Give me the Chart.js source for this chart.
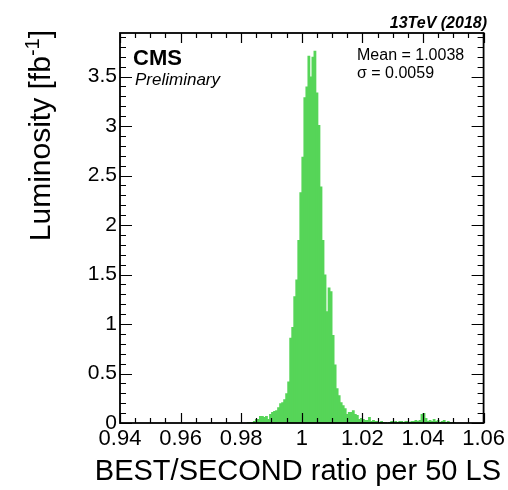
<!DOCTYPE html>
<html><head><meta charset="utf-8">
<script src="https://cdn.jsdelivr.net/npm/chart.js@4.4.1/dist/chart.umd.min.js"></script>
<style>html,body{margin:0;padding:0;background:#fff;}canvas{display:block;}</style>
</head><body>
<canvas id="c" width="508" height="490"></canvas>
<script>
// ---- data ----
const xMin = 0.94, xMax = 1.06;
const binWidth = 1 / 1500;          // bin width of the ratio histogram
const firstBinLow = 0.982;          // low edge of the first filled bin
const lumi = [ // integrated luminosity per bin [fb^-1]
  0.01,0.01,0.01,0.02,0.04,0.04,0.07,0.07,0.06,0.07,
  0.04,0.09,0.11,0.12,0.13,0.16,0.20,0.21,0.24,0.30,
  0.42,0.86,0.97,1.28,1.45,1.85,2.33,2.69,3.29,3.40,
  3.71,3.50,3.70,3.76,3.34,3.01,2.39,1.85,1.50,1.13,
  1.37,1.33,0.89,0.59,0.35,0.28,0.21,0.18,0.15,0.09,
  0.11,0.11,0.13,0.09,0.08,0.04,0.05,0.04,0.03,0.03,
  0.06,0.02,0.03,0.02,0.02,0.01,0.02,0.01,0.01,0.00,
  0.01,0.02,0.01,0.02,0.01,0.02,0.02,0.01,0.02,0.02,
  0.01,0.02,0.02,0.03,0.02,0.03,0.09,0.10,0.05,0.02,
  0.03,0.02,0.04,0.02,0.03,0.01,0.02,0.03,0.01,0.02,
  0.01,0.01,0.01
];
const xTicks = [0.94, 0.96, 0.98, 1.00, 1.02, 1.04, 1.06];
const xTickLabels = ['0.94', '0.96', '0.98', '1', '1.02', '1.04', '1.06'];
const yTicks = [0, 0.5, 1, 1.5, 2, 2.5, 3, 3.5];
const yTickLabels = ['0', '0.5', '1', '1.5', '2', '2.5', '3', '3.5'];
const yMax = 3.94;
const statLines = ['Mean = 1.0038', 'σ = 0.0059'];

// ---- bins: centre of each bin ----
const points = lumi.map((v, i) => ({ x: firstBinLow + (i + 0.5) * binWidth, y: v }));

const FONT = '"Liberation Sans", Arial, Helvetica, sans-serif';
const GREEN = 'rgb(86,213,88)';

const decor = {
  id: 'decor',
  afterDatasetsDraw(chart) {
    const ctx = chart.ctx, a = chart.chartArea;
    const xs = chart.scales.x, ys = chart.scales.y;
    ctx.save();
    ctx.strokeStyle = '#000';
    ctx.lineWidth = 1.8;
    ctx.strokeRect(a.left, a.top, a.right - a.left, a.bottom - a.top);
    ctx.lineWidth = 1.2;
    ctx.beginPath();
    for (let k = 0; k <= 24; k++) {
      const v = xMin + k * 0.005;
      const px = Math.round(xs.getPixelForValue(v)) + 0.5;
      const len = (k % 4 === 0) ? 10 : 5;
      ctx.moveTo(px, a.bottom); ctx.lineTo(px, a.bottom - len);
      ctx.moveTo(px, a.top); ctx.lineTo(px, a.top + len);
    }
    for (let k = 0; k * 0.1 <= yMax + 1e-9; k++) {
      const v = k * 0.1;
      const py = Math.round(ys.getPixelForValue(v)) + 0.5;
      const len = (k % 5 === 0) ? 12 : 6;
      ctx.moveTo(a.left, py); ctx.lineTo(a.left + len, py);
      ctx.moveTo(a.right, py); ctx.lineTo(a.right - len, py);
    }
    ctx.stroke();

    ctx.fillStyle = '#000';
    ctx.textBaseline = 'alphabetic';
    ctx.font = 'italic bold 16px ' + FONT;
    ctx.textAlign = 'right';
    ctx.fillText('13TeV (2018)', 487, 28);
    ctx.textAlign = 'left';
    ctx.font = 'bold 22px ' + FONT;
    ctx.fillText('CMS', 133, 65);
    ctx.font = 'italic 17px ' + FONT;
    ctx.fillText('Preliminary', 135, 85);
    ctx.font = '16px ' + FONT;
    ctx.fillText(statLines[0], 357, 60);
    ctx.fillText(statLines[1], 357, 78);

    ctx.font = '29px ' + FONT;
    ctx.textAlign = 'right';
    ctx.fillText('BEST/SECOND ratio per 50 LS', 501, 480);

    ctx.save();
    ctx.translate(50, 30);
    ctx.rotate(-Math.PI / 2);
    ctx.textAlign = 'left';
    const big = '30px ' + FONT, small = '20px ' + FONT;
    ctx.font = big; const w1 = ctx.measureText('Luminosity [fb').width;
    ctx.font = small; const w2 = ctx.measureText('-1').width;
    ctx.font = big; const w3 = ctx.measureText(']').width;
    const x0 = -(w1 + w2 + w3);
    ctx.font = big; ctx.fillText('Luminosity [fb', x0, 0);
    ctx.font = small; ctx.fillText('-1', x0 + w1, -11);
    ctx.font = big; ctx.fillText(']', x0 + w1 + w2, 0);
    ctx.restore();
    ctx.restore();
  }
};

new Chart(document.getElementById('c'), {
  type: 'bar',
  data: {
    datasets: [{
      data: points,
      backgroundColor: GREEN,
      borderWidth: 0,
      barThickness: 2.8,
      inflateAmount: 0
    }]
  },
  options: {
    responsive: false,
    devicePixelRatio: 1,
    animation: false,
    layout: { padding: { left: 0, right: 22, top: 33, bottom: 0 } },
    plugins: { legend: { display: false }, tooltip: { enabled: false } },
    scales: {
      x: {
        type: 'linear', min: xMin, max: xMax, offset: false,
        afterBuildTicks: s => { s.ticks = xTicks.map(v => ({ value: v })); },
        afterFit: s => { s.height = 67; },
        grid: { display: false, drawTicks: false, offset: false },
        border: { display: false },
        ticks: {
          autoSkip: false, maxRotation: 0, padding: 3, color: '#000',
          font: { family: FONT, size: 22 },
          callback: (v, i) => xTickLabels[i]
        }
      },
      y: {
        type: 'linear', min: 0, max: yMax,
        afterBuildTicks: s => { s.ticks = yTicks.map(v => ({ value: v })); },
        afterFit: s => { s.width = 120; },
        grid: { display: false, drawTicks: false },
        border: { display: false },
        ticks: {
          autoSkip: false, padding: 3, color: '#000',
          font: { family: FONT, size: 21 },
          callback: (v, i) => yTickLabels[i]
        }
      }
    }
  },
  plugins: [decor]
});
</script>
</body></html>
